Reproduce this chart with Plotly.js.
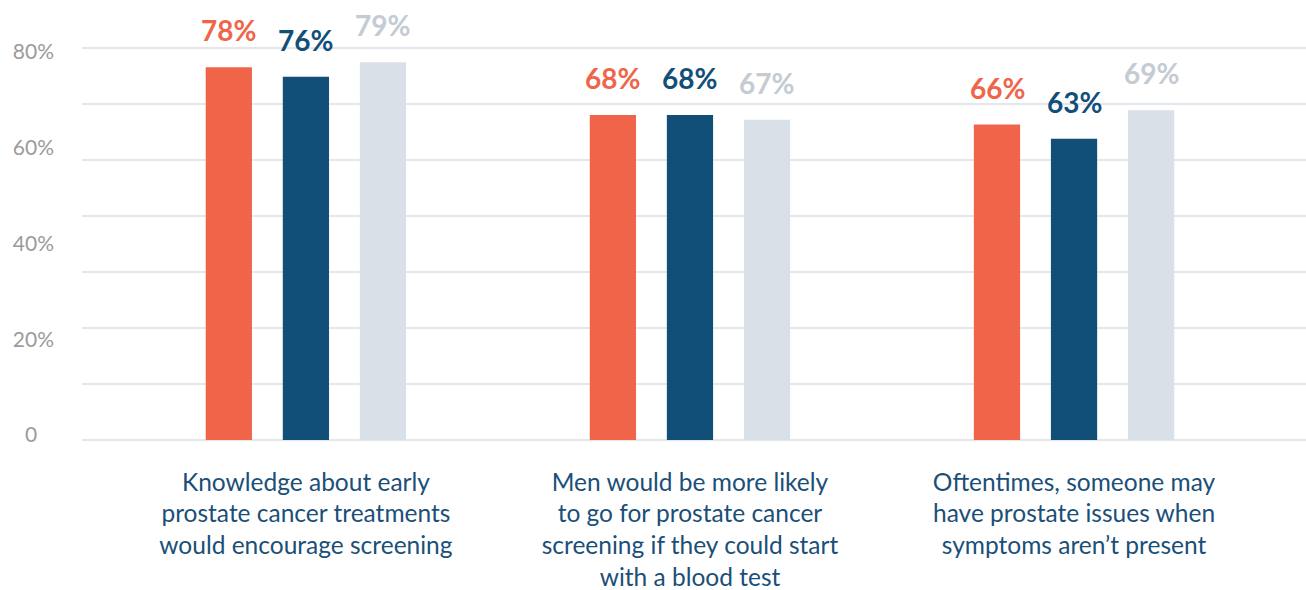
<!DOCTYPE html>
<html>
<head>
<meta charset="utf-8">
<script src="https://cdn.plot.ly/plotly-3.0.1.min.js"></script>
<style>
  html, body { margin: 0; padding: 0; background: #ffffff; }
  #chart { width: 1306px; height: 590px; }
</style>
</head>
<body>
<div id="chart"></div>
<script>
// ---- data ----
const categories = [
  "Knowledge about early<br>prostate cancer treatments<br>would encourage screening",
  "Men would be more likely<br>to go for prostate cancer<br>screening if they could start<br>with a blood test",
  "Oftentimes, someone may<br>have prostate issues when<br>symptoms aren’t present"
];
const seriesA = [78, 68, 66];   // orange
const seriesB = [76, 68, 63];   // navy
const seriesC = [79, 67, 69];   // light grey
const yTickValues = [0, 20, 40, 60, 80];
const yTickLabels = ["0", "20%", "40%", "60%", "80%"];

// ---- styles ----
const barColors = ["#F0654A", "#124F78", "#D9E0E8"];
const labelColors = ["#F0654A", "#124F78", "#C4CBD3"];
const allSeries = [seriesA, seriesB, seriesC];
const gridColor = "#E4E8EE";
const fontFamily = "Lato, 'Open Sans', sans-serif";

const traces = allSeries.map((vals, s) => ({
  type: "bar",
  x: categories,
  y: vals,
  marker: { color: barColors[s] },
  hoverinfo: "skip",
  showlegend: false
}));

// empty helper trace so that the label axis (yaxis2) is drawn
traces.push({
  type: "scatter", mode: "markers",
  x: [categories[0]], y: [null],
  yaxis: "y2", hoverinfo: "skip", showlegend: false
});

const shifts = [-77, 0, 77];
const annotations = [];
allSeries.forEach((vals, s) => {
  vals.forEach((v, i) => {
    annotations.push({
      x: categories[i], y: v, xref: "x", yref: "y",
      text: "<b>" + v + "%</b>",
      showarrow: false, yanchor: "bottom", xanchor: "center",
      xshift: shifts[s], yshift: 18,
      font: { family: fontFamily, size: 28, color: labelColors[s] }
    });
  });
});

const ticktextPadded = yTickLabels.map(t => t.indexOf("%") === -1 ? t + '<span style="color:#ffffff">%</span>' : t);

const layout = {
  width: 1306, height: 590,
  margin: { l: 82, r: 0, t: 45, b: 150 },
  paper_bgcolor: "#ffffff", plot_bgcolor: "#ffffff",
  barmode: "group",
  bargap: 0.398,
  bargroupgap: 0.4,
  xaxis: {
    type: "category",
    range: [-0.583, 2.604],
    showgrid: false, zeroline: false, showline: false,
    ticks: "",
    ticklabelstandoff: 25,
    tickfont: { family: fontFamily, size: 24.5, color: "#1B4F78" },
    fixedrange: true
  },
  yaxis: {
    range: [0, 82.63],
    tick0: 0, dtick: 82 / 7,
    showgrid: true, gridcolor: gridColor, gridwidth: 1.3,
    zeroline: true, zerolinecolor: gridColor, zerolinewidth: 2,
    showticklabels: false, ticks: "",
    fixedrange: true
  },
  yaxis2: {
    overlaying: "y", side: "left", anchor: "x",
    range: [-1.02, 81.42],
    tickmode: "array", tickvals: yTickValues, ticktext: ticktextPadded,
    showgrid: false, zeroline: false, showline: false, ticks: "",
    ticklabelstandoff: 27,
    tickfont: { family: fontFamily, size: 21, color: "#9B9B9B" },
    fixedrange: true
  },
  annotations: annotations,
  font: { family: fontFamily }
};

Plotly.newPlot("chart", traces, layout, { displayModeBar: false, staticPlot: true });
</script>
</body>
</html>
